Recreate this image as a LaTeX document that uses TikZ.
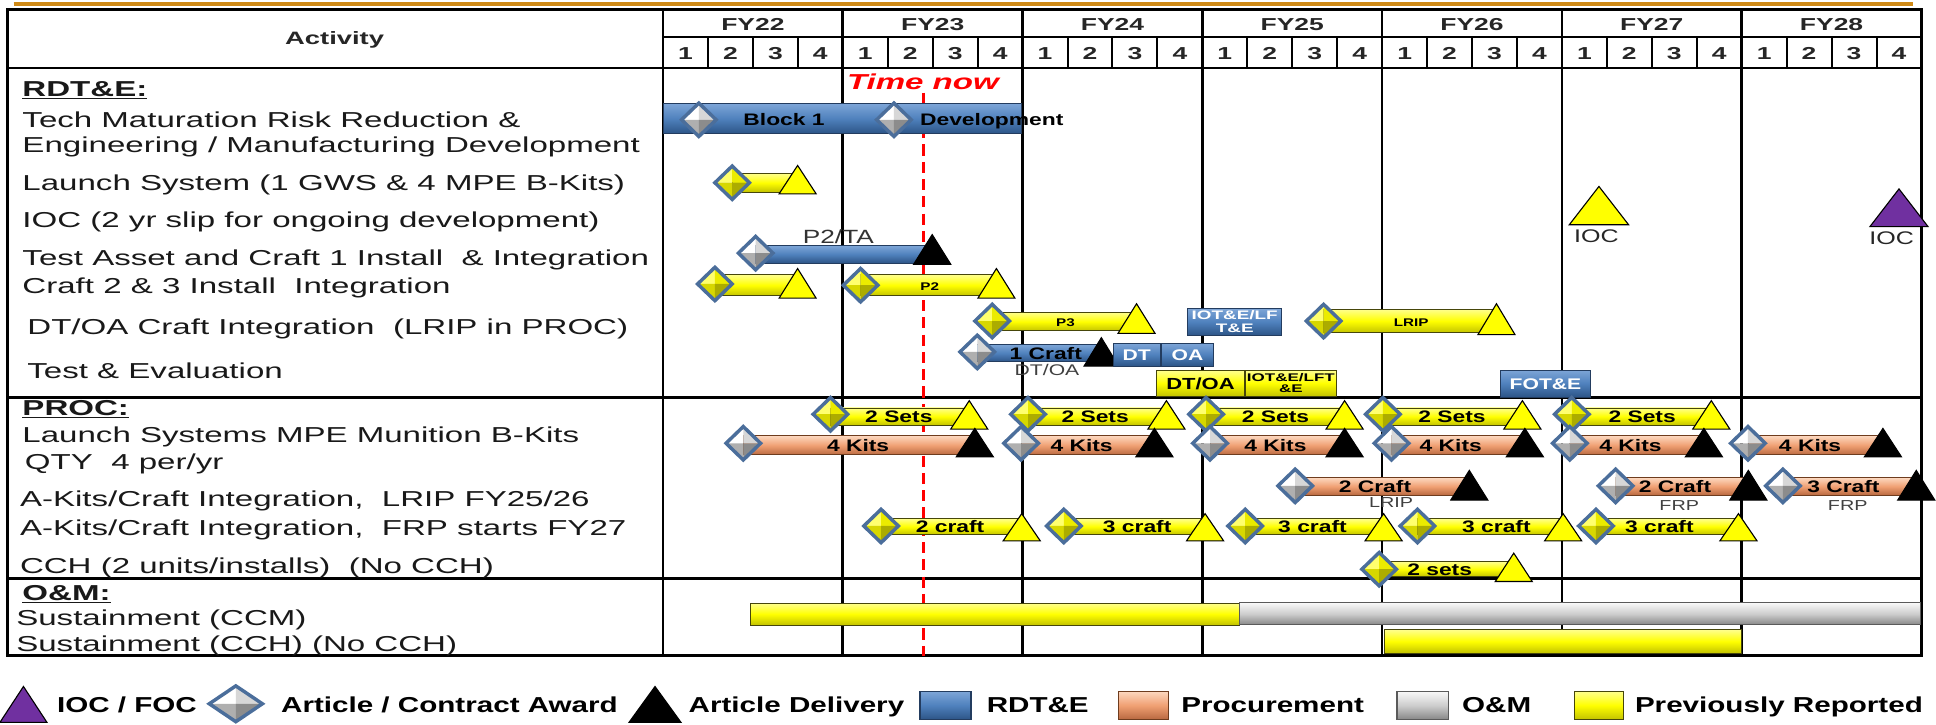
\documentclass[tikz,border=0pt]{standalone}
\usepackage{fontspec}
\setmainfont{Liberation Sans}[FakeStretch=1.37]
\newfontfamily\labfont{Liberation Sans}[FakeStretch=1.53]
\definecolor{gold}{RGB}{208,138,22}
\definecolor{yT}{RGB}{255,255,140}
\definecolor{yM}{RGB}{255,255,0}
\definecolor{yB}{RGB}{195,195,0}
\definecolor{yO}{RGB}{70,70,10}
\definecolor{bT}{RGB}{125,165,215}
\definecolor{bM}{RGB}{79,129,189}
\definecolor{bB}{RGB}{45,85,135}
\definecolor{bO}{RGB}{35,60,95}
\definecolor{oT}{RGB}{252,215,190}
\definecolor{oM}{RGB}{240,160,115}
\definecolor{oB}{RGB}{185,105,65}
\definecolor{oO}{RGB}{110,60,30}
\definecolor{gT}{RGB}{248,248,248}
\definecolor{gM}{RGB}{205,205,205}
\definecolor{gB}{RGB}{135,135,135}
\definecolor{gO}{RGB}{90,90,90}
\definecolor{pM}{RGB}{112,48,160}
\definecolor{dO}{RGB}{75,110,155}
\definecolor{wA}{RGB}{255,255,255}
\definecolor{wB}{RGB}{215,215,215}
\definecolor{wC}{RGB}{175,175,175}
\definecolor{yA}{RGB}{255,255,110}
\definecolor{yBB}{RGB}{235,235,0}
\definecolor{yC}{RGB}{215,215,0}
\definecolor{tred}{RGB}{255,0,0}

\newcommand\gbr[5]{\path[#5] (#1,{#3-#4}) rectangle (#2,{#3+#4});}
\newcommand\trg[5]{\path[#5] ({#1-#3},#2) -- ({#1+#3},#2) -- (#1,{#2-#4}) -- cycle;}
\newcommand\dmd[7]{%
  \fill[#3] (#1,#2) -- ({#1-#6},#2) -- (#1,{#2-#7}) -- cycle;
  \fill[#4] (#1,#2) -- (#1,{#2-#7}) -- ({#1+#6},#2) -- cycle;
  \fill[#5] (#1,#2) -- ({#1-#6},#2) -- (#1,{#2+#7}) -- cycle;
  \fill[#5!80!black] (#1,#2) -- (#1,{#2+#7}) -- ({#1+#6},#2) -- cycle;
  \path[dline] ({#1-#6},#2) -- (#1,{#2-#7}) -- ({#1+#6},#2) -- (#1,{#2+#7}) -- cycle;}
\newcommand\wdm[2]{\dmd{#1}{#2}{wA}{wB}{wC}{14}{13.5}}
\newcommand\ydm[2]{\dmd{#1}{#2}{yA}{yBB}{yC}{14}{13.5}}

\tikzset{
  tline/.style={line width=2.2pt, black},
  qline/.style={line width=1.6pt, black},
  ybarst/.style={draw=yO, line width=0.7pt, top color=yT, bottom color=yB, middle color=yM},
  bbarst/.style={draw=bO, line width=0.7pt, top color=bT, bottom color=bB, middle color=bM},
  obarst/.style={draw=oO, line width=0.7pt, top color=oT, bottom color=oB, middle color=oM},
  gbarst/.style={draw=gO, line width=0.7pt, top color=gT, bottom color=gB, middle color=gM},
  ytri/.style={fill=yM, draw=black, line width=0.9pt, line join=miter},
  btri/.style={fill=black, draw=black, line width=0.9pt, line join=miter},
  ptri/.style={fill=pM, draw=black, line width=0.9pt, line join=miter},
  dline/.style={draw=dO, line width=2.8pt, line join=miter},
  lab/.style={font=\labfont\fontsize{17.5}{21}\selectfont, anchor=west, inner sep=0pt, text height=12.6pt, text depth=0pt, text=black!90},
  seclab/.style={lab, font=\labfont\bfseries\fontsize{17.5}{21}\selectfont},
  hdr/.style={font=\labfont\bfseries\fontsize{14}{14}\selectfont, inner sep=0pt, text height=10pt, text depth=0pt, text=black!85},
  barlab/.style={font=\bfseries\fontsize{13.5}{14}\selectfont, inner sep=0pt, text height=9.7pt, text depth=0pt},
  smlab/.style={font=\bfseries\fontsize{9}{10}\selectfont, inner sep=0pt, text height=6.5pt, text depth=0pt},
  note/.style={font=\fontsize{12.5}{13}\selectfont, inner sep=0pt, text height=9pt, text depth=0pt, text=black!75},
  boxlab/.style={font=\labfont\bfseries\fontsize{10}{10.5}\selectfont, inner sep=0pt, align=center},
  leg/.style={font=\bfseries\fontsize{17.5}{18}\selectfont, anchor=west, inner sep=0pt, text height=12.6pt, text depth=0pt},
}

\begin{document}
\begin{tikzpicture}[x=1pt,y=-1pt]
\useasboundingbox (0,0) rectangle (1568,587);
\fill[white] (0,0) rectangle (1568,587);

% top rule
\draw[line width=3pt, gold] (11,3.5) -- (1549,3.5);

% table grid
\draw[tline] (6,7.6) rectangle (1556,531);
\draw[tline] (537,7.6) -- (537,531);
\foreach \k in {1,...,6} {\draw[tline] ({537+145.6*\k},7.6) -- ({537+145.6*\k},531);}
\draw[tline] (537,30) -- (1556,30);
\draw[tline] (6,55) -- (1556,55);
\draw[tline] (6,322) -- (1556,322);
\draw[tline] (6,468.5) -- (1556,468.5);
\foreach \i in {1,...,27} {\draw[qline] ({537+36.4*\i},30) -- ({537+36.4*\i},55);}

% header texts
\node[hdr, font=\labfont\bfseries\fontsize{14.5}{15}\selectfont, text height=10.4pt] (act) at (271,31) {Activity};
\foreach \k/\lbl in {0/FY22,1/FY23,2/FY24,3/FY25,4/FY26,5/FY27,6/FY28}
  {\node[hdr] (fy\k) at ({537+145.6*(\k+0.5)},19.5) {\lbl};}
\foreach \i in {0,...,27} {\pgfmathsetmacro\qn{int(mod(\i,4)+1)}
  \node[hdr] (q\i) at ({537+36.4*(\i+0.5)},43) {\qn};}

% activity labels
\node[seclab] (sRDT) at (18,72) {\underline{RDT\&E:}};
\node[lab] (l1) at (18,97) {Tech Maturation Risk Reduction \&};
\node[lab] (l2) at (18,117) {Engineering / Manufacturing Development};
\node[lab] (l3) at (18,148) {Launch System (1 GWS \& 4 MPE B-Kits)};
\node[lab] (l4) at (18,178) {IOC (2 yr slip for ongoing development)};
\node[lab] (l5) at (18,209) {Test Asset and Craft 1 Install~ \& Integration};
\node[lab] (l6) at (18,231) {Craft 2 \& 3 Install~ Integration};
\node[lab] (l7) at (22,265) {DT/OA Craft Integration~ (LRIP in PROC)};
\node[lab] (l8) at (22,300) {Test \& Evaluation};
\node[seclab] (sPROC) at (18,330) {\underline{PROC:}};
\node[lab] (l9) at (18,352) {Launch Systems MPE Munition B-Kits};
\node[lab] (l10) at (20,374) {QTY~ 4 per/yr};
\node[lab] (l11) at (16,404) {A-Kits/Craft Integration,~ LRIP FY25/26};
\node[lab] (l12) at (16,427) {A-Kits/Craft Integration,~ FRP starts FY27};
\node[lab] (l13) at (16,458) {CCH (2 units/installs)~ (No CCH)};
\node[seclab] (sOM) at (18,480) {\underline{O\&M:}};
\node[lab] (l14) at (13,500) {Sustainment (CCM)};
\node[lab] (l15) at (13,521) {Sustainment (CCH) (No CCH)};

% time now
\node[font=\labfont\bfseries\itshape\fontsize{17.5}{18}\selectfont, text=tred, inner sep=0pt, text height=12.6pt, text depth=0pt] (tnow) at (747.5,66) {Time now};
\coordinate (tnowEnd) at (747.6,531);
\draw[tred, line width=2.4pt, dash pattern=on 9pt off 5pt] (747.6,75) -- (tnowEnd);

% ---- RDT&E ----
\gbr{537}{827}{96}{12}{bbarst}
\wdm{566}{97}
\wdm{724}{97}
\node[barlab] (blk) at (635,97) {Block 1};
\node[barlab, anchor=west] (dev) at (745,97) {Development};

\gbr{593}{646}{148}{7.5}{ybarst}
\ydm{593}{148}
\trg{646}{157}{15}{23}{ytri}

\trg{1295}{182}{24}{31}{ytri}
\node[note, font=\fontsize{14.8}{15}\selectfont, text height=10.6pt, text=black!85] (ioc1) at (1293,191) {IOC};
\trg{1538}{183.5}{23.5}{30.5}{ptri}
\node[note, font=\fontsize{14.8}{15}\selectfont, text height=10.6pt, text=black!85] (ioc2) at (1532,192.5) {IOC};

\node[note, font=\fontsize{15.5}{16}\selectfont, text height=11.1pt, text=black!80] (p2ta) at (679,192) {P2/TA};
\gbr{612}{755}{206}{7}{bbarst}
\wdm{612}{205}
\trg{755}{214}{15}{24}{btri}

\gbr{579}{646}{231}{8.5}{ybarst}
\ydm{579}{230}
\trg{646}{241.5}{15}{24}{ytri}
\gbr{697}{807}{231}{8.5}{ybarst}
\ydm{697}{231}
\trg{807}{241.5}{15}{24}{ytri}
\node[smlab] (p2) at (753,232) {P2};

\gbr{803}{920}{260.5}{7.5}{ybarst}
\ydm{803.6}{260}
\trg{920.5}{270}{15}{24}{ytri}
\node[smlab] (p3) at (863,261) {P3};

\path[bbarst] (962,250) rectangle (1038,271.5);
\node[boxlab, text=white] (iotb) at (1000,260.8) {IOT\&E/LF\\T\&E};

\gbr{1072}{1212}{260}{9.5}{ybarst}
\ydm{1072}{260}
\trg{1212}{271}{15}{25}{ytri}
\node[smlab] (lrip) at (1143,261) {LRIP};

\node[note] (dtoa) at (848,300) {DT/OA};
\gbr{791}{893}{286}{7}{bbarst}
\wdm{791.5}{285}
\trg{892}{296.5}{14}{23}{btri}
\path[bbarst] (902,278) rectangle (939.5,296.5);
\path[bbarst] (941,278) rectangle (982.5,296.5);
\node[barlab, text=white, font=\bfseries\fontsize{12.5}{13}\selectfont, text height=9pt] (dtb) at (920.7,287.5) {DT};
\node[barlab, text=white, font=\bfseries\fontsize{12.5}{13}\selectfont, text height=9pt] (oab) at (961.7,287.5) {OA};
\node[barlab] (craft1) at (847,286) {1 Craft};

\path[ybarst] (937,300) rectangle (1007.6,320.7);
\node[barlab, font=\bfseries\fontsize{13}{13}\selectfont, text height=9.3pt] (dtoay) at (972.3,310.5) {DT/OA};
\path[ybarst] (1009,300) rectangle (1082,320.7);
\node[boxlab, font=\labfont\bfseries\fontsize{9}{9.5}\selectfont] (iotlft) at (1045.5,310.3) {IOT\&E/LFT\\\&E};
\path[bbarst] (1215.5,299.7) rectangle (1288,321.5);
\node[barlab, text=white, font=\bfseries\fontsize{12.5}{13}\selectfont, text height=9pt] (fote) at (1251.7,310.6) {FOT\&E};

% ---- PROC ----
\foreach \d/\t/\x [count=\i] in {672.6/785/728, 832.6/944.7/887, 976.8/1089/1033, 1120/1233/1176, 1273/1386/1330}{
  \gbr{\d}{\t}{337.4}{7}{ybarst}
  \ydm{\d}{335.5}
  \trg{\t}{347.5}{15}{23}{ytri}
  \node[barlab] (sets\i) at (\x,337.5) {2 Sets};
}
\foreach \d/\t/\x [count=\i] in {602/789.5/695, 827/935/876, 980/1089/1033, 1127/1235/1175, 1271.4/1380/1320.6, 1415.7/1525/1466}{
  \gbr{\d}{\t}{360.7}{7.7}{obarst}
  \wdm{\d}{359}
  \trg{\t}{370}{15}{23}{btri}
  \node[barlab] (kits\i) at (\x,360.5) {4 Kits};
}
\node[note, font=\fontsize{11.7}{12}\selectfont, text height=8.4pt] (sub1) at (1126.6,407) {LRIP};
\node[note, font=\fontsize{11.7}{12}\selectfont, text height=8.4pt] (sub2) at (1360,409) {FRP};
\node[note, font=\fontsize{11.7}{12}\selectfont, text height=8.4pt] (sub3) at (1496.5,409.5) {FRP};
\foreach \d/\t/\x/\lbl [count=\i] in {1049/1190/1113.6/2 Craft, 1308.5/1416/1356.6/2 Craft, 1444/1552/1493/3 Craft}{
  \gbr{\d}{\t}{394}{7}{obarst}
  \wdm{\d}{393.5}
  \trg{\t}{405}{15}{24}{btri}
  \node[barlab] (cr\i) at (\x,394) {\lbl};
}
\foreach \d/\t/\x/\lbl [count=\i] in {713.6/827.5/769.5/2 craft, 861.6/976/921/3 craft, 1008.5/1120.6/1063/3 craft, 1148/1266/1212/3 craft, 1292.6/1408/1344/3 craft}{
  \gbr{\d}{\t}{426.5}{6.5}{ybarst}
  \ydm{\d}{426}
  \trg{\t}{438}{15}{22}{ytri}
  \node[barlab] (yc\i) at (\x,426.5) {\lbl};
}
\gbr{1117}{1226}{461}{6}{ybarst}
\ydm{1117}{461}
\trg{1226}{471}{15}{23}{ytri}
\node[barlab] (cch) at (1166,461) {2 sets};

% ---- O&M ----
\path[ybarst] (608,488.6) rectangle (1004,506.2);
\path[gbarst] (1004,488.3) rectangle (1555,506);
\path[ybarst] (1121,510) rectangle (1410,529);

% ---- legend ----
\trg{19}{585}{19}{29}{ptri}
\node[leg] (lg1) at (46,571) {IOC / FOC};
\dmd{191}{570}{wA}{wB}{wC}{21.5}{14.5}
\node[leg] (lg2) at (227.5,571) {Article / Contract Award};
\trg{530.5}{585}{21}{29}{btri}
\node[leg] (lg3) at (557.6,571) {Article Delivery};
\path[bbarst, line width=1.2pt] (745,560) rectangle (786.6,582.6);
\node[leg] (lg4) at (799,571) {RDT\&E};
\path[obarst, line width=1.2pt] (906,560) rectangle (946.5,582.6);
\node[leg] (lg5) at (956.6,571) {Procurement};
\path[gbarst, line width=1.2pt] (1131.6,560) rectangle (1173,582.6);
\node[leg] (lg6) at (1184,571) {O\&M};
\path[ybarst, line width=1.2pt] (1275,560) rectangle (1315,582.6);
\node[leg] (lg7) at (1324,571) {Previously Reported};
\end{tikzpicture}
\end{document}
